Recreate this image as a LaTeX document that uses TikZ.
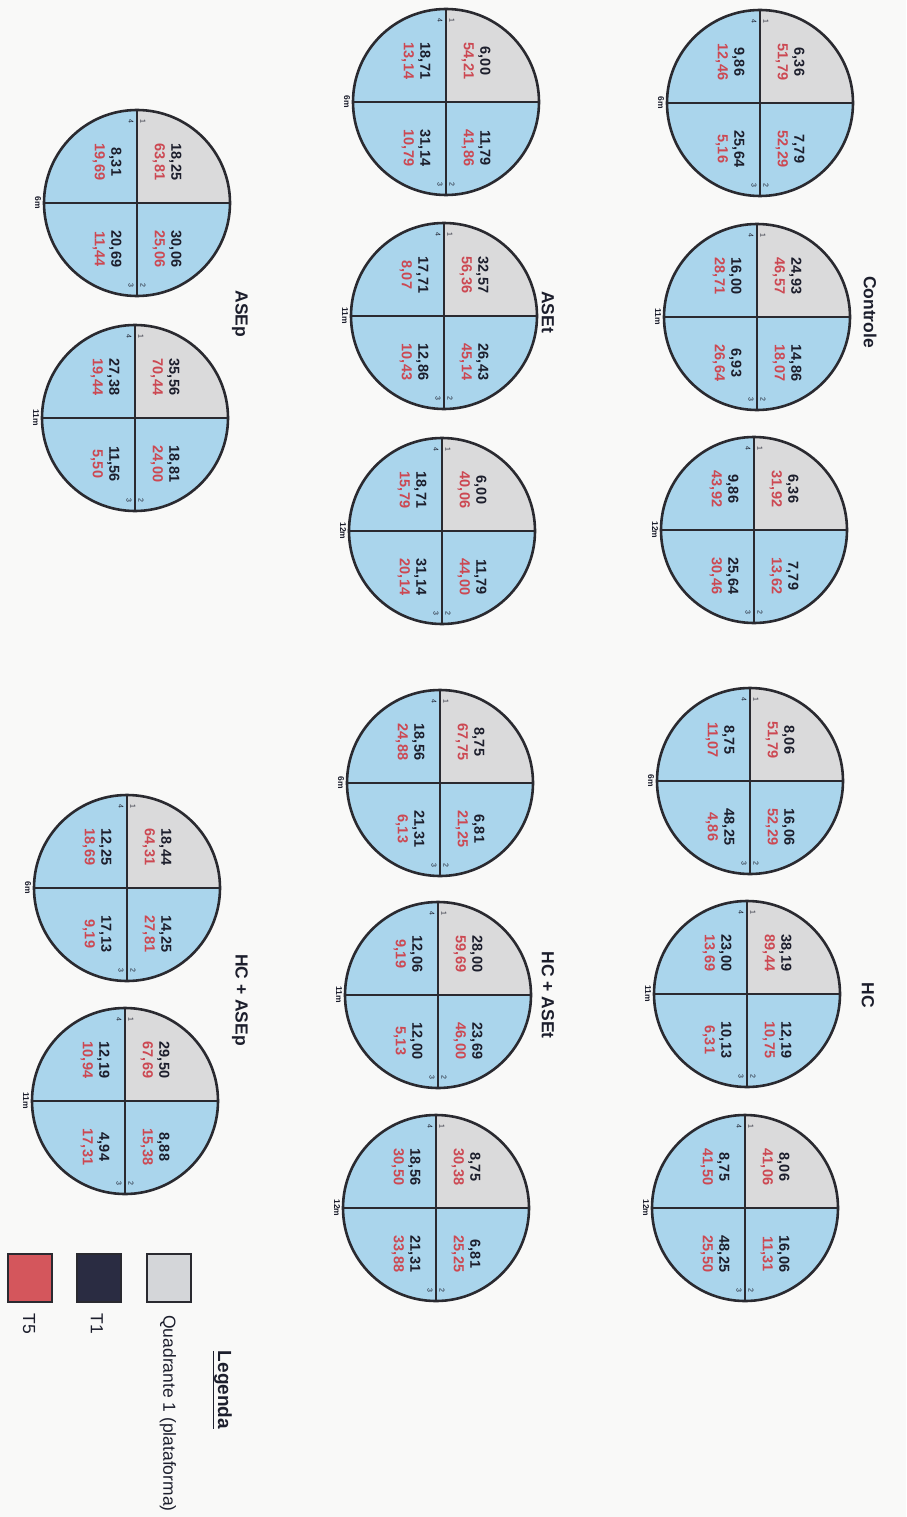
\documentclass[tikz,border=0pt]{standalone}
\usepackage{fontspec}
\setmainfont{Liberation Sans}
\definecolor{qblue}{RGB}{170,213,236}
\definecolor{qgray}{RGB}{218,218,219}
\definecolor{tred}{RGB}{204,72,82}
\definecolor{tdark}{RGB}{28,30,44}
\definecolor{rimc}{RGB}{42,42,48}
\definecolor{paper}{RGB}{249,249,248}
\definecolor{tonec}{RGB}{42,44,66}
\definecolor{tfivec}{RGB}{212,86,92}
\definecolor{lgray}{RGB}{212,214,217}
\tikzset{
  val/.style={rotate=-90, align=center, font=\fontsize{14.5}{16.5}\selectfont\bfseries, text=tdark, inner sep=0pt},
  qnum/.style={rotate=-90, font=\fontsize{7}{8}\selectfont, text=tdark, inner sep=0pt},
  per/.style={rotate=-90, font=\fontsize{8.5}{10}\selectfont\bfseries, text=tdark, inner sep=0pt},
  ttl/.style={rotate=-90, font=\fontsize{17.5}{20}\selectfont\bfseries, text=tdark, inner sep=0pt},
  rim/.style={draw=rimc, line width=2.6pt},
  divider/.style={draw=rimc, line width=2pt},
  legbox/.style={draw=rimc, line width=2.4pt},
  legtxt/.style={rotate=-90, font=\fontsize{17.5}{20}\selectfont, text=tdark, inner sep=0pt},
}
% #1 centre coordinate name, #2..#9: Q1 black/red, Q2, Q3, Q4
\newcommand\qcirc[9]{%
  \begin{scope}[shift={(#1)}]
    \fill[qblue] (0,0) circle[radius=93pt];
    \begin{scope}
      \clip (0,0) circle[radius=93pt];
      \fill[qgray] (0,0) rectangle (100,-100);
    \end{scope}
    \draw[divider] (-93,0) -- (93,0);
    \draw[divider] (0,-93) -- (0,93);
    \draw[rim] (0,0) circle[radius=93pt];
    \node[val] (#1qa) at (30,-41) {#2\\\textcolor{tred}{#3}};
    \node[val] (#1qb) at (30,46) {#4\\\textcolor{tred}{#5}};
    \node[val] (#1qc) at (-30,46) {#6\\\textcolor{tred}{#7}};
    \node[val] (#1qd) at (-30,-41) {#8\\\textcolor{tred}{#9}};
    \node[qnum] (#1na) at (6,-82) {1};
    \node[qnum] (#1nd) at (-6,-82) {4};
    \node[qnum] (#1nb) at (6,82) {2};
    \node[qnum] (#1nc) at (-6,82) {3};
  \end{scope}}
\newcommand\plab[2]{\node[per] (#1lab) at ([xshift=-99pt]#1) {#2};}
\begin{document}
\begin{tikzpicture}[x=1pt,y=-1pt]
\fill[paper] (0,0) rectangle (906,1517);
\useasboundingbox (0,0) rectangle (906,1517);
% centres
\coordinate (c1) at (760,103);
\coordinate (c2) at (757,317);
\coordinate (c3) at (754,530);
\coordinate (a1) at (446,102);
\coordinate (a2) at (444,316);
\coordinate (a3) at (442,531);
\coordinate (p1) at (137,203);
\coordinate (p2) at (135,418);
\coordinate (h1) at (750,781);
\coordinate (h2) at (747,994);
\coordinate (h3) at (745,1208);
\coordinate (t1) at (440,783);
\coordinate (t2) at (438,995);
\coordinate (t3) at (436,1208);
\coordinate (s1) at (127,888);
\coordinate (s2) at (125,1101);
% Controle
\qcirc{c1}{6,36}{51,79}{7,79}{52,29}{25,64}{5,16}{9,86}{12,46}
\qcirc{c2}{24,93}{46,57}{14,86}{18,07}{6,93}{26,64}{16,00}{28,71}
\qcirc{c3}{6,36}{31,92}{7,79}{13,62}{25,64}{30,46}{9,86}{43,92}
% ASEt
\qcirc{a1}{6,00}{54,21}{11,79}{41,86}{31,14}{10,79}{18,71}{13,14}
\qcirc{a2}{32,57}{56,36}{26,43}{45,14}{12,86}{10,43}{17,71}{8,07}
\qcirc{a3}{6,00}{40,06}{11,79}{44,00}{31,14}{20,14}{18,71}{15,79}
% ASEp
\qcirc{p1}{18,25}{63,81}{30,06}{25,06}{20,69}{11,44}{8,31}{19,69}
\qcirc{p2}{35,56}{70,44}{18,81}{24,00}{11,56}{5,50}{27,38}{19,44}
% HC
\qcirc{h1}{8,06}{51,79}{16,06}{52,29}{48,25}{4,86}{8,75}{11,07}
\qcirc{h2}{38,19}{89,44}{12,19}{10,75}{10,13}{6,31}{23,00}{13,69}
\qcirc{h3}{8,06}{41,06}{16,06}{11,31}{48,25}{25,50}{8,75}{41,50}
% HC + ASEt
\qcirc{t1}{8,75}{67,75}{6,81}{21,25}{21,31}{6,13}{18,56}{24,88}
\qcirc{t2}{28,00}{59,69}{23,69}{46,00}{12,00}{5,13}{12,06}{9,19}
\qcirc{t3}{8,75}{30,38}{6,81}{25,25}{21,31}{33,88}{18,56}{30,50}
% HC + ASEp
\qcirc{s1}{18,44}{64,31}{14,25}{27,81}{17,13}{9,19}{12,25}{18,69}
\qcirc{s2}{29,50}{67,69}{8,88}{15,38}{4,94}{17,31}{12,19}{10,94}
% period labels
\plab{c1}{6m}\plab{c2}{11m}\plab{c3}{12m}
\plab{a1}{6m}\plab{a2}{11m}\plab{a3}{12m}
\plab{p1}{6m}\plab{p2}{11m}
\plab{h1}{6m}\plab{h2}{11m}\plab{h3}{12m}
\plab{t1}{6m}\plab{t2}{11m}\plab{t3}{12m}
\plab{s1}{6m}\plab{s2}{11m}
% titles
\node[ttl] (tc) at (870,312) {Controle};
\node[ttl] (ta) at (548,312) {ASEt};
\node[ttl] (tp) at (240,314) {ASEp};
\node[ttl] (th) at (868,995) {HC};
\node[ttl] (tt) at (548,995) {HC + ASEt};
\node[ttl] (ts) at (240,1000) {HC + ASEp};
% legend
\node[rotate=-90, font=\fontsize{19}{22}\selectfont\bfseries, text=tdark, inner sep=0pt] (leg) at (222,1390) {\underline{Legenda}};
\draw[legbox, fill=lgray] (147,1254) rectangle (191,1302);
\node[legtxt, anchor=west] (lq) at (168,1315) {Quadrante 1 (plataforma)};
\draw[legbox, fill=tonec] (77,1254) rectangle (121,1302);
\node[legtxt] (l1) at (97,1324) {T1};
\draw[legbox, fill=tfivec] (8,1254) rectangle (52,1302);
\node[legtxt] (l5) at (29,1324) {T5};
\end{tikzpicture}
\end{document}
